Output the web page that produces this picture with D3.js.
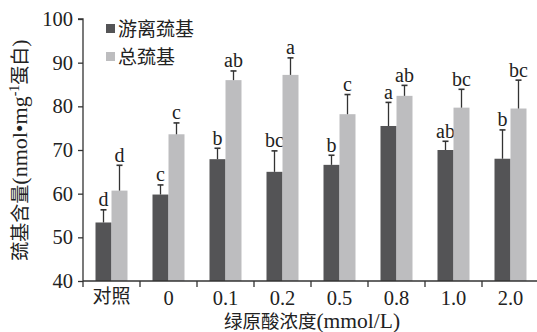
<!DOCTYPE html>
<html><head><meta charset="utf-8">
<script src="https://cdn.jsdelivr.net/npm/d3@7"></script>
<style>body{margin:0;background:#fff}svg{display:block}</style>
</head><body>
<svg id="c" width="537" height="332"></svg>
<script>
const categories = ["对照","0","0.1","0.2","0.5","0.8","1.0","2.0"];
const seriesNames = ["游离巯基","总巯基"];
const freeVals = [53.4,59.8,67.9,65.0,66.6,75.5,70.0,68.0];
const freeErr  = [2.9,2.2,2.5,4.8,2.2,5.4,2.0,6.6];
const totalVals = [60.7,73.6,86.0,87.2,78.2,82.4,79.7,79.5];
const totalErr  = [5.8,2.6,2.1,3.9,4.5,2.4,4.2,6.5];
const freeLetters = ["d","c","b","bc","b","a","ab","b"];
const totalLetters = ["d","c","ab","a","c","ab","bc","bc"];
const yTicks = [40,50,60,70,80,90,100];

const svg = d3.select("#c");
const serif = "'Liberation Serif','Times New Roman',serif";
const cjk = "'Noto Sans CJK SC',sans-serif";
const colors = ["#545456","#bdbdbf"];
const ink = "#222";
const mLeft = 83, mRight = 539, mTop = 19, mBottom = 281;

const x = d3.scaleBand().domain(categories).range([mLeft, mRight]);
const sub = d3.scaleBand().domain([0,1]).range([-16,16]);
const y = d3.scaleLinear().domain([40,100]).range([mBottom, mTop]);

const series = [
  {vals: freeVals, err: freeErr, letters: freeLetters},
  {vals: totalVals, err: totalErr, letters: totalLetters}
];

series.forEach((s, si) => {
  const g = svg.append("g");
  categories.forEach((c, i) => {
    const cx = x(c) + x.bandwidth()/2 + sub(si);
    const w = sub.bandwidth();
    g.append("rect").attr("x", cx).attr("y", y(s.vals[i]))
      .attr("width", w).attr("height", y(40) - y(s.vals[i]))
      .attr("fill", colors[si]);
    const mx = cx + w/2;
    const et = y(s.vals[i] + s.err[i]);
    g.append("line").attr("x1", mx).attr("x2", mx).attr("y1", y(s.vals[i])).attr("y2", et)
      .attr("stroke", "#333").attr("stroke-width", 1.3);
    g.append("line").attr("x1", mx - 3).attr("x2", mx + 3).attr("y1", et).attr("y2", et)
      .attr("stroke", "#333").attr("stroke-width", 1.6);
    g.append("text").attr("x", mx).attr("y", et - 3.5).attr("text-anchor", "middle")
      .attr("font-family", serif).attr("font-size", 20).attr("fill", ink)
      .text(s.letters[i]);
  });
});

// axes
const yAxis = d3.axisLeft(y).tickValues(yTicks).tickSize(5).tickPadding(5);
const yg = svg.append("g").attr("transform", `translate(${mLeft},0)`).call(yAxis);
yg.select(".domain").attr("d", `M-5,${mTop}H0V${mBottom}`);
yg.selectAll("text").attr("font-family", serif).attr("font-size", 20.5).attr("fill", ink);
yg.selectAll("line,path").attr("stroke", "#333").attr("stroke-width", 1.3);

const xAxis = d3.axisBottom(x).tickSize(0).tickPadding(9);
const xg = svg.append("g").attr("transform", `translate(0,${mBottom})`).call(xAxis);
xg.select(".domain").attr("d", `M${mLeft},0H${mRight}`).attr("stroke", "#333").attr("stroke-width", 1.3);
xg.selectAll("text")
  .attr("font-family", d => /^[0-9.]+$/.test(d) ? serif : cjk)
  .attr("font-size", d => /^[0-9.]+$/.test(d) ? 20.5 : 19)
  .attr("fill", ink).attr("dy", "0.71em");
const sepTicks = categories.map(c => x(c));
xg.selectAll(".sep").data(sepTicks).enter().append("line").attr("class", "sep")
  .attr("x1", d => d).attr("x2", d => d).attr("y1", 0).attr("y2", 6)
  .attr("stroke", "#333").attr("stroke-width", 1.3);

// axis titles
const xt = svg.append("text").attr("x", 312).attr("y", 328).attr("text-anchor", "middle").attr("fill", ink);
xt.append("tspan").attr("font-family", cjk).attr("font-size", 18.5).text("绿原酸浓度");
xt.append("tspan").attr("font-family", serif).attr("font-size", 21.5).text("(mmol/L)");

const yl = svg.append("text").attr("transform", "translate(27,150) rotate(-90)")
  .attr("text-anchor", "middle").attr("fill", ink);
yl.append("tspan").attr("font-family", cjk).attr("font-size", 19).text("巯基含量");
yl.append("tspan").attr("font-family", serif).attr("font-size", 22).text("(nmol•mg");
yl.append("tspan").attr("font-family", serif).attr("dy", -8).attr("font-size", 14).text("-1");
yl.append("tspan").attr("font-family", cjk).attr("dy", 8).attr("font-size", 19).text("蛋白");
yl.append("tspan").attr("font-family", serif).attr("font-size", 22).text(")");

// legend
const lg = svg.append("g");
seriesNames.forEach((n, i) => {
  lg.append("rect").attr("x", 106).attr("y", 24 + i * 28).attr("width", 9).attr("height", 9).attr("fill", colors[i]);
  lg.append("text").attr("x", 118).attr("y", 35.5 + i * 28).attr("font-family", cjk).attr("font-size", 19)
    .attr("fill", ink).text(n);
});
</script>
</body></html>
